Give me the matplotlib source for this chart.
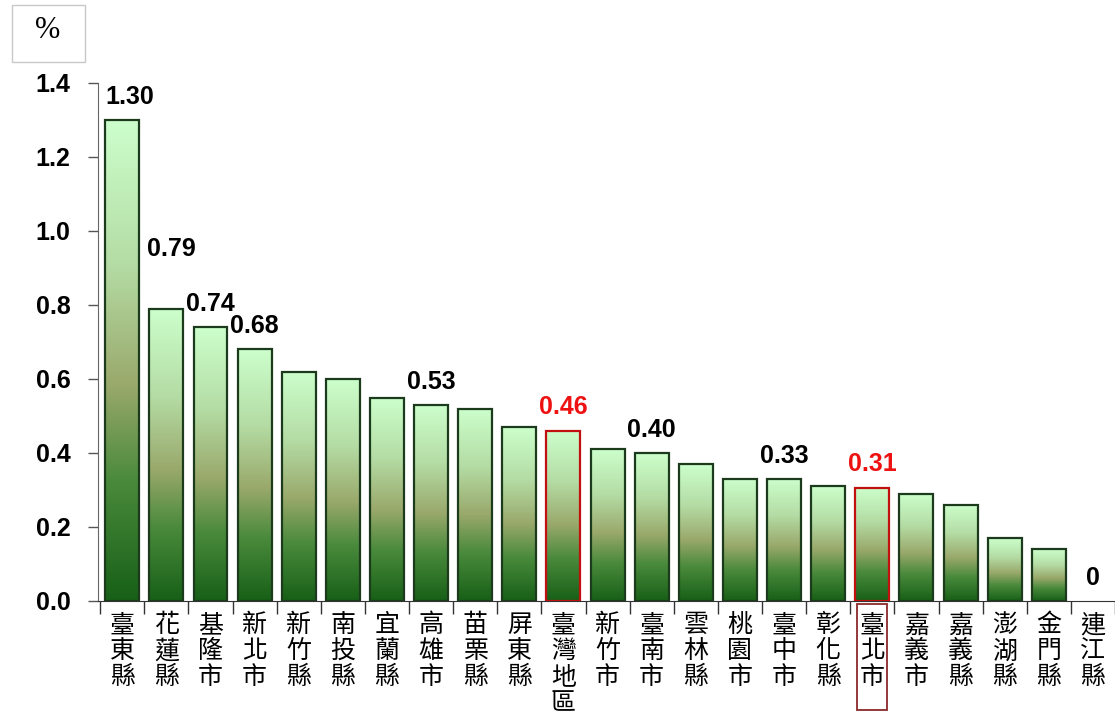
import numpy as np
import matplotlib
matplotlib.use("Agg")
import matplotlib.pyplot as plt
from matplotlib.colors import LinearSegmentedColormap
from matplotlib.patches import Rectangle

categories = ["臺東縣", "花蓮縣", "基隆市", "新北市", "新竹縣", "南投縣", "宜蘭縣", "高雄市",
              "苗栗縣", "屏東縣", "臺灣地區", "新竹市", "臺南市", "雲林縣", "桃園市", "臺中市",
              "彰化縣", "臺北市", "嘉義市", "嘉義縣", "澎湖縣", "金門縣", "連江縣"]
values = [1.30, 0.79, 0.74, 0.68, 0.62, 0.60, 0.55, 0.53, 0.52, 0.47, 0.46, 0.41, 0.40,
          0.37, 0.33, 0.33, 0.31, 0.306, 0.29, 0.26, 0.17, 0.14, 0.0]
labeled = ["臺東縣", "花蓮縣", "基隆市", "新北市", "高雄市", "臺灣地區", "臺南市", "臺中市", "臺北市", "連江縣"]
highlight = ["臺灣地區", "臺北市"]
yticks = [0.0, 0.2, 0.4, 0.6, 0.8, 1.0, 1.2, 1.4]

W, H = 1115, 718
fig = plt.figure(figsize=(W / 100, H / 100), dpi=100)
ax = fig.add_axes([98 / W, (H - 601) / H, 1 - 98 / W, (601 - 83) / H])

cmap = LinearSegmentedColormap.from_list(
    "g", [(0.0, "#176017"), (0.25, "#4a8a3c"), (0.45, "#9aa96c"),
          (0.7, "#b4dca4"), (1.0, "#ccffcc")])
grad = np.linspace(0, 1, 256).reshape(-1, 1)
bw = 0.77
for i, (c, v) in enumerate(zip(categories, values)):
    if v <= 0:
        continue
    ax.imshow(grad, extent=[i - bw / 2, i + bw / 2, 0, v], origin="lower",
              aspect="auto", cmap=cmap, zorder=2, interpolation="bilinear")
    ec = "#c01010" if c in highlight else "#1c3a1c"
    ax.add_patch(Rectangle((i - bw / 2, 0), bw, v, fill=False, edgecolor=ec,
                           linewidth=1.6, zorder=3))

# value labels
offsets = {"花蓮縣": 0.16}
for i, (c, v) in enumerate(zip(categories, values)):
    if c in labeled:
        col = "#ee1111" if c in highlight else "black"
        txt = "0" if v == 0 else f"{v:.2f}"
        dy = offsets.get(c, 0.063)
        dx = 0.18 if c == "臺東縣" else (0.12 if c == "花蓮縣" else 0.0)
        ax.text(i + dx, v + dy, txt, ha="center", va="center", fontsize=18,
                fontweight="bold", color=col, family="Liberation Sans", zorder=4)

ax.set_xlim(-0.55, len(categories) - 0.5)
ax.set_ylim(0, 1.4)
ax.set_yticks(yticks)
ax.set_yticklabels([f"{t:.1f}" for t in yticks], fontsize=18, fontweight="bold",
                   family="Liberation Sans")
ax.tick_params(axis="y", direction="out", length=7, width=1, color="#555555", pad=38)
for lbl in ax.get_yticklabels():
    lbl.set_horizontalalignment("left")

ax.set_xticks(np.arange(len(categories) + 1) - 0.5, minor=False)
ax.set_xticklabels([])
ax.tick_params(axis="x", direction="out", length=9, width=1, color="#333333")
for i, c in enumerate(categories):
    ax.text(i, -0.022, "\n".join(c), ha="center", va="top", fontsize=18,
            family="Noto Sans CJK TC", linespacing=1.0,
            transform=ax.get_xaxis_transform(), clip_on=False)

for s in ["top", "right"]:
    ax.spines[s].set_visible(False)
ax.spines["left"].set_color("#666666")
ax.spines["bottom"].set_color("#333333")

# box around 臺北市 label
i = categories.index("臺北市")
ax.add_patch(Rectangle((i - 0.34, -0.21), 0.68, 0.205, fill=False,
                       edgecolor="#8b2a2a", linewidth=1.3,
                       transform=ax.get_xaxis_transform(), clip_on=False))

# % unit box
fig.patches.append(Rectangle((12 / W, 1 - 62 / H), 73 / W, 57 / H, fill=False,
                             edgecolor="#c8c8c8", linewidth=1, transform=fig.transFigure))
fig.text(48 / W, 1 - 30 / H, "%", ha="center", va="center", fontsize=22,
         family="Liberation Serif")

fig.savefig("out.png", dpi=100)
